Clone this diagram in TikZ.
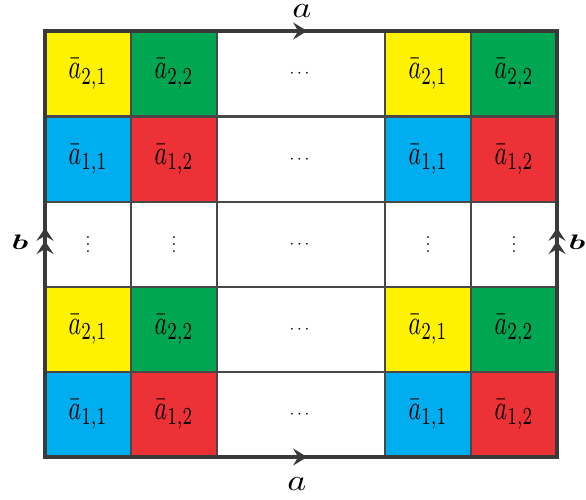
\documentclass[tikz,border=0pt]{standalone}
\usepackage{amsmath}
\usepackage{graphicx}
\usetikzlibrary{arrows.meta,decorations.markings}
\definecolor{cyel}{RGB}{255,242,0}
\definecolor{cgrn}{RGB}{0,166,81}
\definecolor{cblu}{RGB}{0,174,239}
\definecolor{cred}{RGB}{237,50,55}
\definecolor{gridc}{RGB}{72,72,72}
\definecolor{borderc}{RGB}{58,58,58}
\newcommand{\celllab}[1]{\scalebox{2.4}[3.5]{$\bar{a}_{#1}$}}
\newcommand{\mydotsh}{\scalebox{1.7}{$\cdots$}}
\newcommand{\mydotsv}{\scalebox{1.75}{$\vdots$}}
\tikzset{
  cell/.style={draw=gridc, line width=2pt, inner sep=0pt, outer sep=0pt, minimum height=85pt},
  sq/.style={cell, minimum width=86pt},
  wide/.style={cell, minimum width=168pt, fill=white},
  vd/.style={inner sep=0pt, outer sep=0pt, yshift=5.25pt},
  border/.style={draw=borderc, line width=3.5pt, line cap=rect},
  midarrow/.style={postaction={decorate}, decoration={markings,
    mark=at position 0.512 with {\arrow{Stealth[length=14pt,width=17pt,inset=5pt]}}}},
  dblarrow/.style={postaction={decorate}, decoration={markings,
    mark=at position 0.538 with {\arrow{Stealth[length=13pt,width=17pt,inset=5pt]}},
    mark=at position 0.507 with {\arrow{Stealth[length=13pt,width=17pt,inset=5pt]}}}},
  lbl/.style={inner sep=0pt, outer sep=0pt},
}
\begin{document}
\begin{tikzpicture}[x=1pt, y=-1pt]
\useasboundingbox (0,0) rectangle (586,500);
% row 1
\node[sq, fill=cyel] (c11) at (88,74) {\celllab{2,1}};
\node[sq, fill=cgrn] (c12) at (174,74) {\celllab{2,2}};
\node[wide] (c13) at (301,74) {\mydotsh};
\node[sq, fill=cyel] (c14) at (428,74) {\celllab{2,1}};
\node[sq, fill=cgrn] (c15) at (514,74) {\celllab{2,2}};
% row 2
\node[sq, fill=cblu] (c21) at (88,159.5) {\celllab{1,1}};
\node[sq, fill=cred] (c22) at (174,159.5) {\celllab{1,2}};
\node[wide] (c23) at (301,159.5) {\mydotsh};
\node[sq, fill=cblu] (c24) at (428,159.5) {\celllab{1,1}};
\node[sq, fill=cred] (c25) at (514,159.5) {\celllab{1,2}};
% row 3
\node[sq, fill=white] (c31) at (88,244.5) {};
\node[sq, fill=white] (c32) at (174,244.5) {};
\node[wide] (c33) at (301,244.5) {\mydotsh};
\node[sq, fill=white] (c34) at (428,244.5) {};
\node[sq, fill=white] (c35) at (514,244.5) {};
\node[vd] (v31) at (c31.center) {\mydotsv};
\node[vd] (v32) at (c32.center) {\mydotsv};
\node[vd] (v34) at (c34.center) {\mydotsv};
\node[vd] (v35) at (c35.center) {\mydotsv};
% row 4
\node[sq, fill=cyel] (c41) at (88,329.5) {\celllab{2,1}};
\node[sq, fill=cgrn] (c42) at (174,329.5) {\celllab{2,2}};
\node[wide] (c43) at (301,329.5) {\mydotsh};
\node[sq, fill=cyel] (c44) at (428,329.5) {\celllab{2,1}};
\node[sq, fill=cgrn] (c45) at (514,329.5) {\celllab{2,2}};
% row 5
\node[sq, fill=cblu] (c51) at (88,414.5) {\celllab{1,1}};
\node[sq, fill=cred] (c52) at (174,414.5) {\celllab{1,2}};
\node[wide] (c53) at (301,414.5) {\mydotsh};
\node[sq, fill=cblu] (c54) at (428,414.5) {\celllab{1,1}};
\node[sq, fill=cred] (c55) at (514,414.5) {\celllab{1,2}};
% border
\coordinate (tl) at (45,31);
\coordinate (tr) at (557,31);
\coordinate (bl) at (45,457);
\coordinate (br) at (557,457);
\draw[border, midarrow] (tl) -- (tr);
\draw[border, midarrow] (bl) -- (br);
\draw[border, dblarrow] (bl) -- (tl);
\draw[border, dblarrow] (br) -- (tr);
% labels
\node[lbl] (atop) at (302,11) {\scalebox{3.6}[3.0]{$a$}};
\node[lbl] (abot) at (297,484) {\scalebox{3.6}[3.0]{$a$}};
\node[lbl] (bleft) at (20,242) {\scalebox{3.2}[2.1]{$\boldsymbol{b}$}};
\node[lbl] (bright) at (577,242) {\scalebox{3.2}[2.1]{$\boldsymbol{b}$}};
\end{tikzpicture}
\end{document}
